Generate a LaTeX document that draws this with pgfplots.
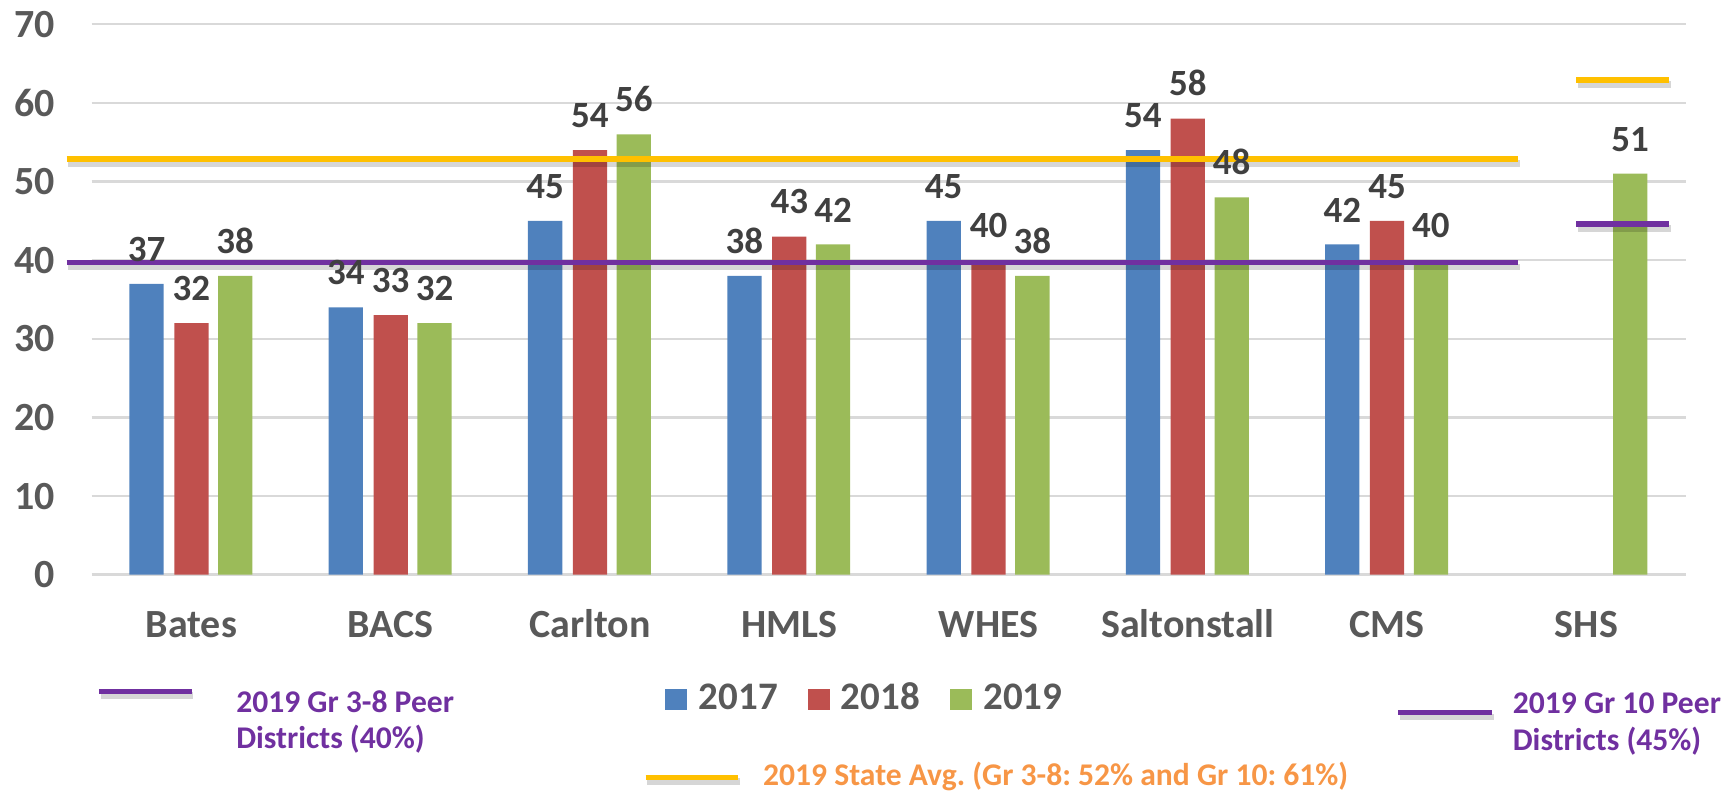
\documentclass[border=0pt]{standalone}
\usepackage{fontspec}
\setmainfont{Carlito}
\usepackage{pgfplots}
\pgfplotsset{compat=1.18}
\definecolor{cA}{HTML}{4F81BD}
\definecolor{cB}{HTML}{C0504D}
\definecolor{cC}{HTML}{9BBB59}
\definecolor{cP}{HTML}{7030A0}
\definecolor{cO}{HTML}{FFC000}
\definecolor{cOT}{HTML}{F79646}
\definecolor{tickc}{HTML}{595959}
\definecolor{labc}{HTML}{404040}
\definecolor{gridc}{HTML}{D9D9D9}
\frenchspacing
\begin{document}
\begin{tikzpicture}
\useasboundingbox (-45.9pt,-109.5pt) rectangle (821.6pt,287.5pt);
\begin{axis}[
  at={(0,0)}, anchor=south west, scale only axis,
  width=797.6pt, height=275.35pt,
  xmin=-0.5, xmax=7.5, ymin=0, ymax=70,
  axis x line*=bottom, axis y line*=left,
  axis line style={draw=none},
  tick style={draw=none},
  ymajorgrids, grid style={gridc, line width=1.2pt},
  xtick={0,...,7},
  xticklabels={Bates,BACS,Carlton,HMLS,WHES,Saltonstall,CMS,SHS},
  ytick={0,10,...,70},
  /pgf/number format/assume math mode=true,
  yticklabel style={font=\fontsize{20}{24}\selectfont\bfseries, text=tickc, anchor=east, inner sep=0pt, xshift=-18.4pt},
  xticklabel style={font=\fontsize{20}{24}\selectfont\bfseries, text=tickc, anchor=base, inner sep=0pt, yshift=-31.2pt},
  clip=false,
  every node near coord/.append style={font=\fontsize{18.5}{22}\selectfont\bfseries, text=labc, anchor=south, inner sep=0pt, yshift=11pt},
]
\addplot[ybar, bar width=0.172, bar shift=-0.225, fill=cA, draw=none, nodes near coords,
  every node near coord/.append style={xshift=-22.43pt}]
  coordinates {(0,37)(1,34)(2,45)(3,38)(4,45)(5,54)(6,42)};
\addplot[ybar, bar width=0.172, bar shift=0, fill=cB, draw=none, nodes near coords]
  coordinates {(0,32)(1,33)(2,54)(3,43)(4,40)(5,58)(6,45)};
\addplot[ybar, bar width=0.172, bar shift=0.22, fill=cC, draw=none, nodes near coords,
  every node near coord/.append style={xshift=21.93pt}]
  coordinates {(0,38)(1,32)(2,56)(3,42)(4,38)(5,48)(6,40)(7,51)};
% shadows
\addplot[black, opacity=0.16, line width=3.4pt, xshift=0.8pt, yshift=-2.2pt] coordinates {(-0.626,52.9)(6.657,52.9)};
\addplot[black, opacity=0.16, line width=3.4pt, xshift=0.8pt, yshift=-2.2pt] coordinates {(-0.626,39.7)(6.657,39.7)};
\addplot[black, opacity=0.16, line width=3.4pt, xshift=0.8pt, yshift=-2.2pt] coordinates {(6.95,62.9)(7.415,62.9)};
\addplot[black, opacity=0.16, line width=3.4pt, xshift=0.8pt, yshift=-2.2pt] coordinates {(6.95,44.6)(7.415,44.6)};
% reference lines
\addplot[cO, line width=2.83pt] coordinates {(-0.626,52.9)(6.657,52.9)};
\addplot[cP, line width=2.83pt] coordinates {(-0.626,39.7)(6.657,39.7)};
\addplot[cO, line width=2.83pt] coordinates {(6.95,62.9)(7.415,62.9)};
\addplot[cP, line width=2.83pt] coordinates {(6.95,44.6)(7.415,44.6)};
\end{axis}
% custom legend
\begin{scope}
\draw[black, opacity=0.16, line width=3.4pt] (4.4pt,-60.6pt) -- (50.8pt,-60.6pt);
\draw[cP, line width=2.83pt] (3.6pt,-58.4pt) -- (50pt,-58.4pt);
\node[anchor=base west, inner sep=0pt, text=cP, font=\fontsize{15.8}{18}\selectfont\bfseries] at (72.1pt,-69.2pt) {2019 Gr 3-8 Peer};
\node[anchor=base west, inner sep=0pt, text=cP, font=\fontsize{15.8}{18}\selectfont\bfseries] at (72.1pt,-87.2pt) {Districts (40\%)};

\draw[black, opacity=0.16, line width=3.4pt] (654.4pt,-71.2pt) -- (701.4pt,-71.2pt);
\draw[cP, line width=2.83pt] (653.6pt,-69pt) -- (700.6pt,-69pt);
\node[anchor=base west, inner sep=0pt, text=cP, font=\fontsize{15.8}{18}\selectfont\bfseries] at (710.75pt,-69.65pt) {2019 Gr 10 Peer};
\node[anchor=base west, inner sep=0pt, text=cP, font=\fontsize{15.8}{18}\selectfont\bfseries] at (710.75pt,-87.85pt) {Districts (45\%)};

\fill[cA] (287pt,-57.15pt) rectangle (298pt,-67.85pt);
\node[anchor=base west, inner sep=0pt, text=tickc, font=\fontsize{19.5}{22}\selectfont\bfseries] at (303.55pt,-67.5pt) {2017};
\fill[cB] (358.1pt,-57.15pt) rectangle (369.1pt,-67.85pt);
\node[anchor=base west, inner sep=0pt, text=tickc, font=\fontsize{19.5}{22}\selectfont\bfseries] at (374.6pt,-67.5pt) {2018};
\fill[cC] (429.35pt,-57.15pt) rectangle (440.35pt,-67.85pt);
\node[anchor=base west, inner sep=0pt, text=tickc, font=\fontsize{19.5}{22}\selectfont\bfseries] at (445.85pt,-67.5pt) {2019};

\draw[black, opacity=0.16, line width=3.4pt] (277.9pt,-103.6pt) -- (324.3pt,-103.6pt);
\draw[cO, line width=2.83pt] (277.1pt,-101.4pt) -- (323.5pt,-101.4pt);
\node[anchor=base west, inner sep=0pt, text=cOT, font=\fontsize{15.8}{18}\selectfont\bfseries] at (335.7pt,-105.5pt) {2019 State Avg. (Gr 3-8: 52\% and Gr 10: 61\%)};
\end{scope}
\end{tikzpicture}
\end{document}
